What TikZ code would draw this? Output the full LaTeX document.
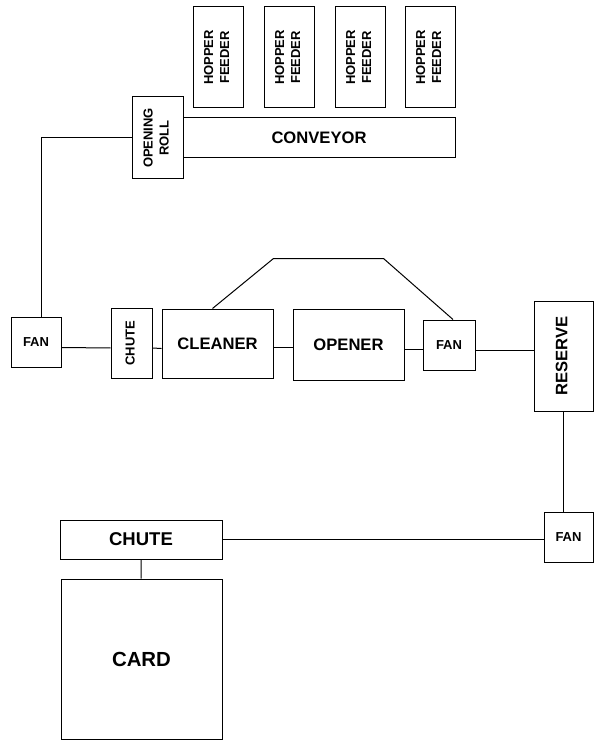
\documentclass[tikz,border=0pt]{standalone}
\usepackage{fontspec}
\setmainfont{Liberation Sans}
\usepackage{graphicx}
\usetikzlibrary{positioning}
\newcommand{\uptext}[1]{\rotatebox{90}{\begin{tabular}{@{}c@{}}#1\end{tabular}}}
\tikzset{
  unit/.style={
    draw,
    line width=1pt,
    inner sep=0pt,
    align=center,
    font=\bfseries\fontsize{13}{16}\selectfont
  },
  bigunit/.style={
    unit,
    font=\bfseries\fontsize{16.6}{19}\selectfont
  },
  hopper/.style={
    unit,
    minimum width=50pt,
    minimum height=101pt
  },
  fanbox/.style={
    unit,
    minimum width=50pt,
    minimum height=50pt
  },
  link/.style={
    line width=1pt
  }
}
\begin{document}
\begin{tikzpicture}[x=1pt,y=-1pt]
\useasboundingbox (0,0) rectangle (594,743);
\node[hopper] (hop1) at (218,57.5) {\uptext{HOPPER\\FEEDER}};
\node[hopper, right=20pt of hop1] (hop2) {\uptext{HOPPER\\FEEDER}};
\node[hopper, right=20pt of hop2] (hop3) {\uptext{HOPPER\\FEEDER}};
\node[hopper, right=19pt of hop3] (hop4) {\uptext{HOPPER\\FEEDER}};
\node[unit, minimum width=51pt, minimum height=82pt] (roll) at (157.5,138) {\uptext{OPENING\\ROLL}};
\node[bigunit, minimum width=272pt, minimum height=40pt] (conv) at (319,138) {CONVEYOR};
\node[fanbox] (fan1) at (36,342.5) {FAN};
\node[unit, minimum width=41pt, minimum height=70pt] (chute1) at (131.5,343) {\uptext{CHUTE}};
\node[bigunit, minimum width=111pt, minimum height=69pt] (clean) at (217.5,343.5) {CLEANER};
\node[bigunit, minimum width=111pt, minimum height=71pt] (open) at (348.5,344.5) {OPENER};
\node[fanbox, minimum width=52pt] (fan2) at (449,345) {FAN};
\node[bigunit, minimum width=59pt, minimum height=110pt] (res) at (563.5,356) {\uptext{RESERVE}};
\node[fanbox, minimum width=49pt] (fan3) at (568.5,537) {FAN};
\node[unit, font=\bfseries\fontsize{18.5}{21}\selectfont, minimum width=162pt, minimum height=39pt] (chute2) at (141,539.5) {CHUTE};
\node[unit, font=\bfseries\fontsize{20.4}{23}\selectfont, minimum width=161pt, minimum height=160pt] (card) at (141.5,659) {CARD};
\draw[link] ([xshift=5pt]fan1.north) |- (roll.west);
\draw[link] ([yshift=-5pt]fan1.east) -- ([yshift=-5pt]chute1.west);
\draw[link] ([yshift=-5pt]chute1.east) -- ([yshift=-5pt]clean.west);
\draw[link] ([yshift=-4pt]clean.east) -- ([yshift=-4pt]clean.east -| open.west);
\draw[link] ([yshift=-5pt]open.east) -- ([yshift=-5pt]open.east -| fan2.west);
\draw[link] ([yshift=-5pt]fan2.east) -- ([yshift=-5pt]fan2.east -| res.west);
\draw[link] ([xshift=-5pt]clean.north) -- ++(61,-50) -- ++(110,0) -- ([xshift=4pt]fan2.north);
\draw[link] (res.south) -- (res.south |- fan3.north);
\draw[link] (chute2.east) -- (chute2.east -| fan3.west);
\draw[link] (chute2) -- (card);
\end{tikzpicture}
\end{document}
